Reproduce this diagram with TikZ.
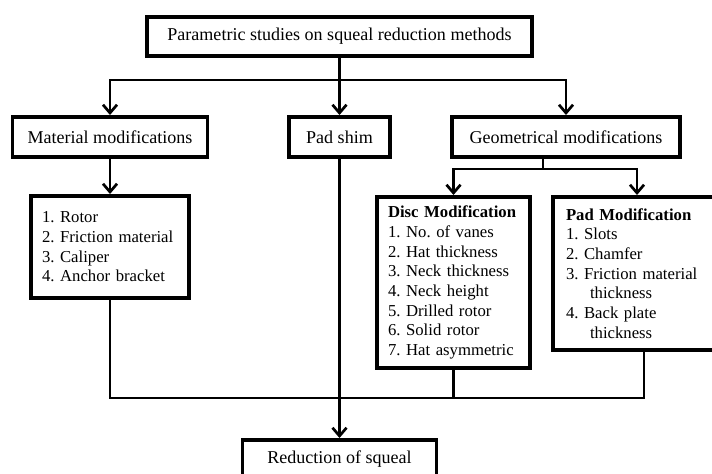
\documentclass[tikz,border=0pt]{standalone}
\usepackage{fontspec}
\setmainfont{Liberation Serif}
\frenchspacing
\usetikzlibrary{arrows.meta}
\tikzset{
  headbox/.style={draw=black, line width=3.4pt, inner sep=0pt, font=\fontsize{15.4}{18}\selectfont},
  listbox/.style={draw=black, line width=3.4pt, align=left, inner xsep=0.330cm, inner ysep=0pt, font=\fontsize{14.26}{16.8}\selectfont},
  wire/.style={line width=2.3pt, draw=black},
  feed/.style={wire, -{Straight Barb[length=7pt,width=12pt]}},
}

\begin{document}
\begin{tikzpicture}
\useasboundingbox (0,0) rectangle (21.360,14.190);
\node[headbox, minimum width=11.550cm, minimum height=1.170cm] (top) at (10.185,13.095) {Parametric studies on squeal reduction methods};
\node[headbox, minimum width=5.850cm, minimum height=1.200cm] (material) at (3.300,10.080) {Material modifications};
\node[headbox, minimum width=3.030cm, minimum height=1.200cm] (shim) at (10.185,10.080) {Pad shim};
\node[headbox, minimum width=6.840cm, minimum height=1.200cm] (geometry) at (16.980,10.080) {Geometrical modifications};
\node[listbox, text width=4.080cm, minimum height=3.060cm] (matlist) at (3.300,6.780) {1. Rotor\\2. Friction material\\3. Caliper\\4. Anchor bracket};
\node[listbox, text width=3.930cm, minimum height=5.130cm] (disc) at (13.605,5.715) {\textbf{Disc Modification}\\1. No. of vanes\\2. Hat thickness\\3. Neck thickness\\4. Neck height\\5. Drilled rotor\\6. Solid rotor\\7. Hat asymmetric};
\node[listbox, text width=4.260cm, minimum height=4.590cm, inner xsep=0.390cm] (padmod) at (19.110,5.985) {\textbf{Pad Modification}\\1. Slots\\2. Chamfer\\3. Friction material\\\hspace*{0.720cm}thickness\\4. Back plate\\\hspace*{0.720cm}thickness};
\node[headbox, minimum width=5.820cm, minimum height=1.140cm] (reduction) at (10.185,0.420) {Reduction of squeal};
\coordinate (topsplit) at (10.185,11.790);
\coordinate (geosplit) at (16.290,9.120);
\coordinate (gather) at (19.320,2.250);
\draw[wire] (top) -- (topsplit);
\draw[feed] (topsplit) -| (material);
\draw[feed] (topsplit) -- (shim);
\draw[feed] (topsplit) -| (geometry);
\draw[wire] (geometry.south -| geosplit) -- (geosplit);
\draw[feed] (geosplit) -| (disc);
\draw[feed] (geosplit) -| (padmod);
\draw[feed] (material) -- (matlist);
\draw[wire] (matlist) |- (gather) -- (padmod.south -| gather);
\draw[wire] (disc) -- (disc |- gather);
\draw[feed] (shim) -- (reduction);
\end{tikzpicture}
\end{document}
